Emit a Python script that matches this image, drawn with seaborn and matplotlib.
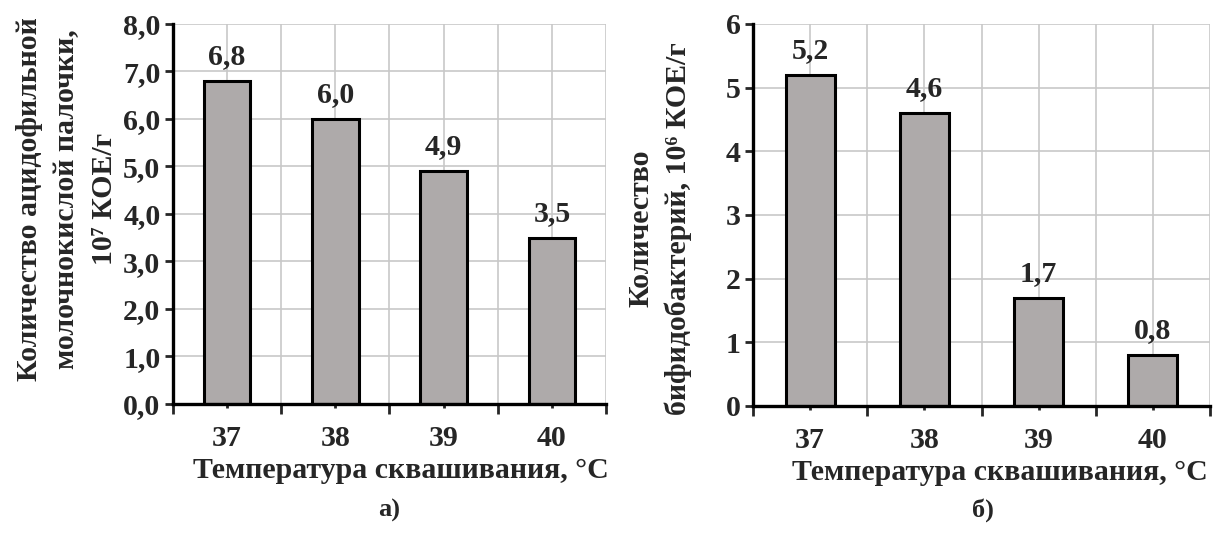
import matplotlib
matplotlib.use('Agg')
import matplotlib.pyplot as plt
import seaborn as sns
from matplotlib.ticker import FixedLocator

# данные
temps = ["37", "38", "39", "40"]
lactobacilli = [6.8, 6.0, 4.9, 3.5]     # 10^7 КОЕ/г
bifido = [5.2, 4.6, 1.7, 0.8]           # 10^6 КОЕ/г

xlabel = "Температура сквашивания, °С"
ylabel_a = "Количество ацидофильной\nмолочнокислой палочки,\n10⁷ КОЕ/г"
ylabel_b = "Количество\nбифидобактерий, 10⁶ КОЕ/г"

sns.set_style("white")
plt.rcParams['font.family'] = ['Liberation Serif', 'DejaVu Serif']
plt.rcParams['font.weight'] = 'bold'

BAR = "#AEAAAA"
GRID = "#c8c8c8"
FS = 21.5
FS_LAB = 21.5


def comma(v, nd):
    return f"{v:.{nd}f}".replace(".", ",")


def draw_panel(ax, values, ymax, ylab, nd_tick, xlab_x, ypad, ylab_y):
    sns.barplot(x=temps, y=values, color=BAR, saturation=1, width=0.43,
                edgecolor="black", linewidth=2.2, ax=ax)
    ax.set_xlim(-0.5, len(temps) - 0.5)
    ax.set_ylim(0, ymax)
    ax.set_axisbelow(True)

    ax.set_yticks(range(ymax + 1))
    ax.set_yticklabels([comma(v, nd_tick) for v in range(ymax + 1)],
                       fontsize=FS, fontweight="bold")
    ax.set_xticks(range(len(temps)))
    ax.set_xticklabels(temps, fontsize=FS, fontweight="bold")
    ax.xaxis.set_minor_locator(FixedLocator([i - 0.5 for i in range(len(temps) + 1)]))

    ax.grid(True, which="major", color=GRID, linewidth=1.2)
    ax.grid(True, which="minor", axis="x", color=GRID, linewidth=1.2)

    ax.tick_params(axis="y", which="major", direction="out", length=6, width=2,
                   left=True, pad=3)
    ax.tick_params(axis="x", which="major", direction="out", length=3, width=2,
                   bottom=True, pad=12)
    ax.tick_params(axis="x", which="minor", direction="out", length=7, width=2,
                   bottom=True)

    for side in ("top", "right"):
        ax.spines[side].set_visible(False)
    for side in ("left", "bottom"):
        ax.spines[side].set_visible(True)
        ax.spines[side].set_color("black")
        ax.spines[side].set_linewidth(2.4)

    ax.bar_label(ax.containers[0], labels=[comma(v, 1) for v in values],
                 padding=8, fontsize=FS, fontweight="bold")

    ax.set_xlabel(xlabel, fontsize=FS_LAB, fontweight="bold")
    ax.xaxis.set_label_coords(xlab_x, -0.14)
    ax.set_ylabel(ylab, fontsize=FS_LAB, fontweight="bold", labelpad=ypad,
                  linespacing=1.5)
    ax.yaxis.label.set_y(ylab_y)


fig = plt.figure(figsize=(12.25, 5.44), dpi=100)
ax_a = fig.add_axes([0.1412, 0.2574, 0.3535, 0.6985])
ax_b = fig.add_axes([0.6147, 0.2537, 0.3731, 0.7022])

draw_panel(ax_a, lactobacilli, 8, ylabel_a, 1, 0.527, 4, 0.54)
draw_panel(ax_b, bifido, 6, ylabel_b, 0, 0.54, 24, 0.465)

fig.text(0.318, 0.062, "а)", ha="center", va="center", fontsize=19, fontweight="bold")
fig.text(0.802, 0.062, "б)", ha="center", va="center", fontsize=19, fontweight="bold")

fig.savefig("out.png", dpi=100)
